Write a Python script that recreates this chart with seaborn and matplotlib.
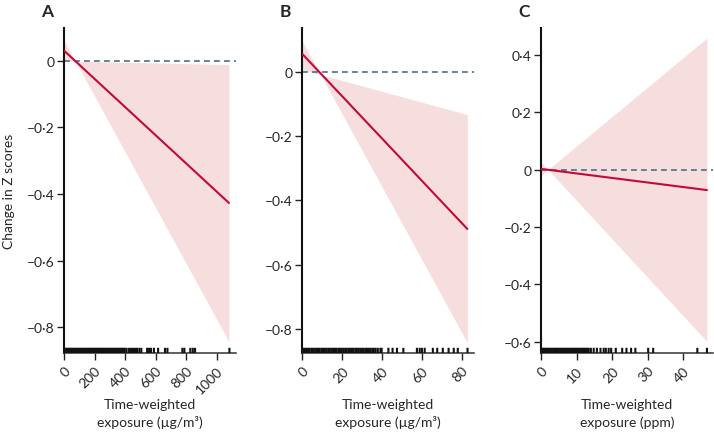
import matplotlib
matplotlib.use("Agg")
import matplotlib.pyplot as plt
import seaborn as sns
import numpy as np
import pandas as pd

# ---------------- data ----------------
panels = ["A", "B", "C"]

# exposure range endpoints (fitted line drawn between them)
expo_a = [0, 1080]
est_a = [0.031, -0.427]
ci1_a = [0.062, -0.844]
ci2_a = [0.0, -0.011]

expo_b = [0, 82.8]
est_b = [0.057, -0.489]
ci1_b = [0.097, -0.844]
ci2_b = [0.008, -0.132]

expo_c = [0, 46.6]
est_c = [0.003, -0.071]
ci1_c = [0.027, -0.600]
ci2_c = [-0.020, 0.460]

rug_a = [3, 12, 21, 30, 38, 47, 55, 64, 73, 82, 90, 99, 108, 117, 126, 134,
         143, 152, 161, 170, 178, 187, 196, 205, 214, 222, 231, 240, 249, 258,
         266, 275, 284, 293, 302, 310, 319, 328, 337, 346, 354, 363, 372, 381,
         390, 398, 410, 426, 439, 452, 465, 478, 493, 506, 544, 557, 570, 589,
         616, 661, 677, 775, 788, 827, 843, 858, 1083]
rug_b = [0.3, 1.1, 1.9, 2.8, 3.6, 4.5, 5.3, 6.2, 7.0, 7.9, 8.7, 9.6, 10.4,
         11.3, 12.1, 13.0, 13.8, 14.7, 15.5, 16.4, 17.2, 18.1, 18.9, 19.8,
         20.6, 21.5, 22.3, 23.2, 24.0, 24.9, 25.7, 26.6, 27.4, 28.3, 29.1,
         30.0, 30.8, 31.7, 32.5, 33.4, 34.2, 35.1, 35.9, 36.8, 37.9, 39.2,
         39.8, 43.2, 45.3, 47.5, 50.7, 57.5, 58.9, 60.0, 61.4, 65.5, 67.7,
         70.5, 73.4, 76.0, 78.0, 82.9]
rug_c = [0.2, 0.6, 1.0, 1.4, 1.8, 2.2, 2.6, 3.0, 3.4, 3.8, 4.2, 4.6, 5.0, 5.4,
         5.8, 6.2, 6.6, 7.0, 7.4, 7.8, 8.2, 8.6, 9.0, 9.4, 9.8, 10.2, 10.6,
         11.0, 11.4, 11.8, 12.2, 12.6, 13.0, 13.4, 14.0, 14.8, 15.7, 16.7,
         17.6, 18.2, 19.0, 19.7, 21.0, 22.8, 24.0, 25.3, 26.5, 30.1, 31.5,
         43.9, 46.6]

xticks_a = [0, 200, 400, 600, 800, 1000]
xticks_b = [0, 20, 40, 60, 80]
xticks_c = [0, 10, 20, 30, 40]

yticks_ab = [0, -0.2, -0.4, -0.6, -0.8]
yticklabels_ab = ["0", "–0·2", "–0·4", "–0·6", "–0·8"]
yticks_c = [0.4, 0.2, 0, -0.2, -0.4, -0.6]
yticklabels_c = ["0·4", "0·2", "0", "–0·2", "–0·4", "–0·6"]

xlabels = ["Time-weighted\nexposure (µg/m³)",
           "Time-weighted\nexposure (µg/m³)",
           "Time-weighted\nexposure (ppm)"]
ylabel = "Change in Z scores"

# ---------------- style ----------------
sns.set_style("ticks")
plt.rcParams["font.family"] = ["Lato", "DejaVu Sans"]
plt.rcParams["axes.unicode_minus"] = False

LINE = "#c20a3a"
BAND = "#f7dede"
ZERO = "#4f6e82"

fig = plt.figure(figsize=(7.14, 4.35), dpi=100)
W, H = 714, 435
axes_px = [64, 302.3, 541]
ax_w = 172
ax_top, ax_bot = 29, 354

specs = [
    (expo_a, est_a, ci1_a, ci2_a, rug_a, xticks_a, (0, 1126), (-0.878, 0.099), yticks_ab, yticklabels_ab),
    (expo_b, est_b, ci1_b, ci2_b, rug_b, xticks_b, (0, 86.3), (-0.876, 0.138), yticks_ab, yticklabels_ab),
    (expo_c, est_c, ci1_c, ci2_c, rug_c, xticks_c, (0, 48.3), (-0.64, 0.495), yticks_c, yticklabels_c),
]

for i, (x, est, c1, c2, rug, xt, xl, yl, yt, ytl) in enumerate(specs):
    left = axes_px[i] / W
    ax = fig.add_axes([left, (H - ax_bot) / H, ax_w / W, (ax_bot - ax_top) / H])
    ax.fill_between(x, c1, c2, color=BAND, lw=0, zorder=1)
    ax.axhline(0, color=ZERO, lw=1.2, ls=(0, (3.5, 2.5)), zorder=2)
    df = pd.DataFrame({"x": x, "y": est})
    sns.lineplot(data=df, x="x", y="y", ax=ax, color=LINE, linewidth=1.5, zorder=3)
    sns.rugplot(x=rug, ax=ax, height=0.016, color="#111111", linewidth=1.5,
                snap=False, antialiased=True, zorder=4)
    ax.set_xlim(*xl)
    ax.set_ylim(*yl)
    ax.set_xticks(xt)
    ax.set_xticklabels([str(v) for v in xt], rotation=45, ha="right",
                       rotation_mode="anchor", fontsize=10)
    ax.set_yticks(yt)
    ax.set_yticklabels(ytl, fontsize=10)
    ax.tick_params(axis="both", direction="out", length=5, width=1, color="#222222",
                   pad=2)
    ax.tick_params(axis="x", pad=3)
    for s in ["top", "right"]:
        ax.spines[s].set_visible(False)
    ax.spines["left"].set_linewidth(1.5)
    ax.spines["left"].set_color("#111111")
    ax.spines["bottom"].set_linewidth(1.1)
    ax.spines["bottom"].set_color("#333333")
    ax.set_xlabel(xlabels[i], fontsize=10, linespacing=1.45)
    ax.xaxis.set_label_coords(0.5, -0.14)
    ax.xaxis.label.set_va("top")
    if i == 0:
        ax.set_ylabel(ylabel, fontsize=10, labelpad=8)
    else:
        ax.set_ylabel("")
    ax.annotate(panels[i], xy=(0, 1), xycoords="axes fraction",
                xytext=(-12, 12), textcoords="offset points",
                fontsize=12.5, fontweight="bold", ha="center", va="center")

fig.savefig("out.png", dpi=100)
